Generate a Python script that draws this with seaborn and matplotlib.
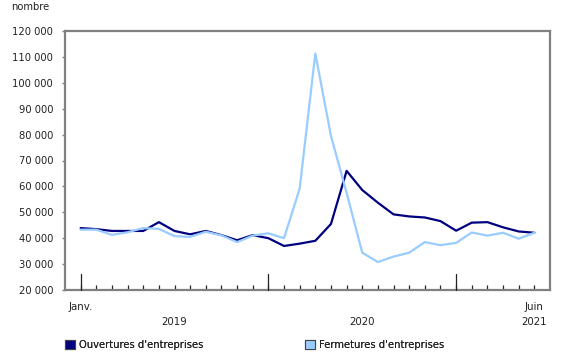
import numpy as np
import pandas as pd
import matplotlib
matplotlib.use("Agg")
import matplotlib.pyplot as plt
from matplotlib.patches import Patch
import seaborn as sns

months = ["Janv.", "Févr.", "Mars", "Avr.", "Mai", "Juin", "Juil.", "Août", "Sept.", "Oct.", "Nov.", "Déc."] * 2 + \
         ["Janv.", "Févr.", "Mars", "Avr.", "Mai", "Juin"]
years = ["2019"] * 12 + ["2020"] * 12 + ["2021"] * 6

ouvertures = [43900, 43500, 42800, 42800, 42800, 46200, 42800, 41500, 42800, 41200, 39200, 41200,
              40000, 37000, 37900, 39000, 45500, 66000, 58600, 53700, 49200, 48400, 48000, 46600,
              42900, 46000, 46200, 44200, 42600, 42100]
fermetures = [43300, 43300, 41300, 42300, 43900, 43600, 40800, 40500, 42500, 41100, 38500, 41000,
              41900, 40000, 59200, 111300, 79500, 57500, 34400, 30800, 32900, 34400, 38500, 37300,
              38200, 42200, 41000, 42100, 39800, 42100]

series_names = ["Ouvertures d'entreprises", "Fermetures d'entreprises"]
colors = ["#000080", "#99CCFF"]
y_ticks = [20000, 30000, 40000, 50000, 60000, 70000, 80000, 90000, 100000, 110000, 120000]

idx = np.arange(len(months))
df = pd.DataFrame({
    "t": np.concatenate([idx, idx]),
    "value": ouvertures + fermetures,
    "serie": [series_names[0]] * len(idx) + [series_names[1]] * len(idx),
})

sns.set_style("white")
plt.rcParams["font.family"] = ["DejaVu Sans"]
plt.rcParams["font.size"] = 7.2

fig = plt.figure(figsize=(5.8, 3.6), dpi=100)
W, H = 580, 360
ax = fig.add_axes([65 / W, (H - 290) / H, 485 / W, 259 / H])

sns.lineplot(data=df, x="t", y="value", hue="serie", palette=dict(zip(series_names, colors)),
             linewidth=1.6, legend=False, ax=ax, zorder=3)

ax.set_xlim(-1, 30)
ax.set_ylim(20000, 120000)
ax.set_yticks(y_ticks)
ax.set_yticklabels([f"{v:,}".replace(",", " ") for v in y_ticks], fontsize=7.2, color="#222222")
ax.set_xlabel("")
ax.set_ylabel("")

for s in ax.spines.values():
    s.set_color("#808080")
    s.set_linewidth(1.6)

ax.tick_params(axis="y", left=True, direction="out", length=2.5, width=1, color="#808080", pad=6)
ax.set_xticks(idx)
ax.set_xticklabels([])
ax.tick_params(axis="x", bottom=True, direction="in", length=3.8, width=0.9, color="#222222")
# major year ticks
for xv in [0, 12, 24]:
    ax.plot([xv, xv], [0, 0.06], transform=ax.get_xaxis_transform(), color="#222222", lw=0.9,
            clip_on=False, zorder=4)

trans = ax.get_xaxis_transform()
lab_y1 = -(307 - 290) / 259
lab_y2 = -(322 - 290) / 259
fs = 7.4
ax.text(0, lab_y1, months[0], transform=trans, ha="center", va="center", fontsize=fs, color="#222222")
ax.text(29, lab_y1, months[-1], transform=trans, ha="center", va="center", fontsize=fs, color="#222222")
ax.text(6, lab_y2, years[0], transform=trans, ha="center", va="center", fontsize=fs, color="#222222")
ax.text(18, lab_y2, years[12], transform=trans, ha="center", va="center", fontsize=fs, color="#222222")
ax.text(29, lab_y2, years[-1], transform=trans, ha="center", va="center", fontsize=fs, color="#222222")

fig.text(11 / W, 1 - 7 / H, "nombre", ha="left", va="center", fontsize=7.2, color="#222222")

for name, col, xpos in zip(series_names, colors, [65, 305]):
    leg = fig.legend(handles=[Patch(facecolor=col, edgecolor="#444444", linewidth=0.8, label=name)],
                     loc="center left", bbox_to_anchor=(xpos / W, 1 - 345 / H), frameon=False,
                     borderpad=0, borderaxespad=0, handlelength=1.0, handleheight=1.0,
                     handletextpad=0.4, fontsize=7.2)
    for t in leg.get_texts():
        t.set_color("#222222")
    fig.add_artist(leg)

fig.savefig("out.png", dpi=100)
